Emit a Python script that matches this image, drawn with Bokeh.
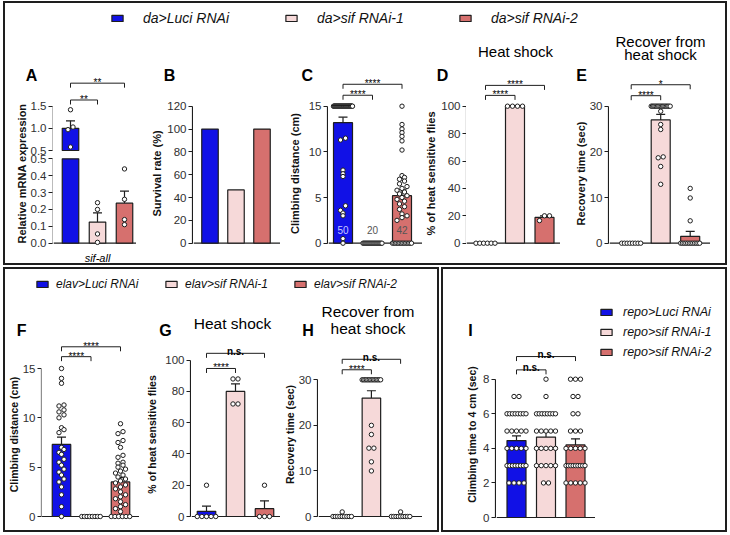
import numpy as np
from math import pi
from bokeh.plotting import figure
from bokeh.models import (Range1d, FixedTicker, Span, Label, Whisker, ColumnDataSource,
                          TeeHead, Legend, LegendItem, PrintfTickFormatter, Title, Spacer)
from bokeh.layouts import row, column
from bokeh.core.properties import value
from bokeh.embed import file_html
from bokeh.resources import INLINE

FONT = "Liberation Sans"
INK = "#1e1e1e"
TICK_C = "#303030"
TICK_FS = 11.5
BLUE, PINK, RED = "#1111e6", "#f6d9d9", "#d6706e"
COLORS = [BLUE, PINK, RED]
DOT = 4.4
BOX = {"border": "2px solid #1e1e1e"}

# ------------------------------------------------------------------ data
top_legend = ["da>Luci RNAi", "da>sif RNAi-1", "da>sif RNAi-2"]
mid_legend = ["elav>Luci RNAi", "elav>sif RNAi-1", "elav>sif RNAi-2"]
repo_legend = ["repo>Luci RNAi", "repo>sif RNAi-1", "repo>sif RNAi-2"]

A_mean = [1.0, 0.125, 0.237]
A_sem = [0.17, 0.055, 0.072]
A_pts = [[1.42, 1.03, 0.97, 0.58], [0.24, 0.20, 0.055, 0.005], [0.44, 0.26, 0.14, 0.11]]
A_ticks_low = [0.0, 0.1, 0.2, 0.3, 0.4, 0.5]
A_ticks_high = [0.5, 1.0, 1.5]
A_sig = [(0, 1, 1.64, "**"), (0, 2, 2.02, "**")]

B_mean = [100, 46.7, 100]
B_ticks = [0, 20, 40, 60, 80, 100, 120]

C_mean = [13.2, 0.0, 5.2]
C_sem = [0.6, 0.0, 0.65]
C_n = [50, 20, 42]
C_pts = [[15] * 39 + [11.5, 11.3, 8.0, 7.6, 7.3, 4.1, 3.6, 3.3, 3.0, 0.5, 0.0],
         [0] * 20,
         [15, 13, 12.5, 12.1, 11.7, 11.2, 10.2, 7.4, 7.2, 7.0, 6.8, 6.5, 6.2, 6.0, 5.8, 5.6,
          5.4, 5.2, 5.0, 4.8, 4.6, 4.3, 4.0, 3.7, 3.2, 3.0, 2.8, 2.5] + [0] * 14]
C_ticks = [0, 5, 10, 15]
C_sig = [(0, 1, 16.2, "****"), (0, 2, 17.4, "****")]

D_mean = [0.0, 100.0, 18.8]
D_sem = [0.0, 0.0, 1.2]
D_pts = [[0] * 6, [100] * 4, [20, 20, 16.5]]
D_ticks = [0, 20, 40, 60, 80, 100]
D_sig = [(0, 1, 107.9, "****"), (0, 2, 115.2, "****")]

E_mean = [0.0, 27.0, 1.5]
E_sem = [0.0, 1.2, 1.1]
E_pts = [[0] * 8,
         [30] * 16 + [28.9, 26.0, 24.9, 18.9, 18.7, 16.8, 12.9],
         [12, 9.9, 4.9] + [0] * 12]
E_ticks = [0, 10, 20, 30]
E_sig = [(0, 1, 32.3, "****"), (0, 2, 34.7, "*")]

F_mean = [7.3, 0.0, 3.5]
F_sem = [0.75, 0.0, 0.45]
F_pts = [[15, 14, 13.5, 11.3, 11.2, 10.8, 10.6, 10.3, 10.0, 9.0, 8.8, 8.5, 7.0, 6.8, 6.5, 6.3,
          5.8, 5.5, 5.2, 4.8, 4.5, 4.2, 3.8, 3.5, 3.0, 2.2, 1.0, 0.0],
         [0] * 8,
         [9.4, 8.6, 8.4, 7.7, 7.5, 7.0, 6.2, 6.0, 5.5, 5.4, 5.2, 5.0, 4.8, 4.6, 4.4, 4.2, 4.0,
          3.8, 3.6, 3.4, 3.2, 3.0, 2.8, 2.5, 2.2, 2.0, 1.8, 1.5, 1.2, 1.0, 0.8, 0.5] + [0] * 6]
F_ticks = [0, 5, 10, 15]
F_sig = [(0, 1, 16.2, "****"), (0, 2, 17.2, "****")]

G_mean = [3.3, 80.0, 5.0]
G_sem = [3.3, 4.8, 5.0]
G_pts = [[20, 0, 0, 0, 0, 0], [88, 88, 72, 72], [20, 0, 0, 0]]
G_ticks = [0, 20, 40, 60, 80, 100]
G_sig = [(0, 1, 94.7, "****"), (0, 2, 104.4, "n.s.")]

H_mean = [0.1, 26.0, 0.1]
H_sem = [0.0, 1.6, 0.0]
H_pts = [[1] + [0] * 9, [30] * 14 + [20, 18, 15, 15, 12, 10], [1] + [0] * 9]
H_ticks = [0, 10, 20, 30]
H_sig = [(0, 1, 32.2, "****"), (0, 2, 34.5, "n.s.")]

I_mean = [4.45, 4.65, 4.2]
I_sem = [0.27, 0.3, 0.35]
I_pts = [[7] * 2 + [6] * 8 + [5] * 5 + [4] * 5 + [3] * 8 + [2] * 4,
         [8] + [7] + [6] * 8 + [5] * 5 + [4] * 5 + [3] * 5 + [2] * 2,
         [8] * 3 + [7] * 2 + [6] * 2 + [5] * 3 + [4] * 5 + [3] * 9 + [2] * 5]
I_ticks = [0, 2, 4, 6, 8]
I_sig = [(0, 1, 8.54, "n.s."), (0, 2, 9.31, "n.s.")]


# ------------------------------------------------------------------ helpers
def swarm(vals, k, s, maxw, d=5.0):
    v = np.asarray(vals, dtype=float)
    off = np.zeros(len(v))
    bins = np.round(v * k / d).astype(int)
    for b in np.unique(bins):
        idx = np.where(bins == b)[0]
        idx = idx[np.argsort(v[idx], kind="stable")]
        n = len(idx)
        if n > 1:
            step = min(d, maxw / (n - 1))
            off[idx] = (np.arange(n) - (n - 1) / 2) * step
    return off / s


def common(p):
    p.outline_line_color = None
    p.background_fill_color = "white"
    p.border_fill_color = "white"
    for gr in p.grid:
        gr.visible = False


def yrange(zero, top_px, top_val, T, bot):
    k = (zero - top_px) / top_val
    return k, Range1d(-(bot - zero) / k, top_val + (top_px - T) / k)


def tick_w(ticks, fs=TICK_FS, fmt=None):
    w = 0
    for t in ticks:
        s = fmt % t if fmt else f"{t:g}"
        w = max(w, sum(0.278 if c == "." else 0.556 for c in s) * fs)
    return w


def axis_fig(x0, axis, H, T_a, yr, ticks, bounds, letter, letter_cx, ylabel, lab_cx,
             lab_fs, letter_w=11.5, fmt=None):
    W = axis + 1 - x0
    p = figure(width=W, height=H, output_backend="svg", toolbar_location=None, title=None,
               x_axis_location=None, y_axis_location="left",
               min_border_left=W - 1, min_border_right=0, min_border_top=T_a,
               min_border_bottom=0, x_range=Range1d(0, 1), y_range=yr)
    common(p)
    ax = p.yaxis[0]
    ax.ticker = FixedTicker(ticks=ticks, minor_ticks=[])
    ax.bounds = bounds
    ax.major_tick_in = 0
    ax.major_tick_out = 4
    ax.minor_tick_line_color = None
    ax.axis_line_color = INK
    ax.axis_line_width = 1.2
    ax.major_tick_line_color = INK
    ax.major_tick_line_width = 1.2
    ax.major_label_text_font = FONT
    ax.major_label_text_font_size = f"{TICK_FS}px"
    ax.major_label_text_color = TICK_C
    ax.major_label_standoff = 2
    ax.axis_label = ylabel
    ax.axis_label_text_font = FONT
    ax.axis_label_text_font_size = f"{lab_fs}px"
    ax.axis_label_text_font_style = "bold"
    ax.axis_label_text_color = "#111111"
    stand = (W - 1) - 6 - tick_w(ticks, TICK_FS, fmt) - lab_fs * 0.55 - (lab_cx - x0)
    ax.axis_label_standoff = int(max(0, round(stand)))
    p.add_layout(Title(text=letter, align="right", vertical_align="bottom", standoff=0,
                       offset=W - (letter_cx - x0 + letter_w / 2), text_font=FONT,
                       text_font_size="16px", text_font_style="bold", text_color="#000000"),
                 "above")
    p.add_layout(Span(location=0, dimension="width", line_color=INK, line_width=1.2))
    return p


def plot_fig(x0, xend, H, yr, c0, s):
    p = figure(width=xend - x0, height=H, output_backend="svg", toolbar_location=None,
               title=None, x_axis_location=None, y_axis_location=None, min_border=0,
               x_range=Range1d((x0 - c0) / s, (xend - c0) / s), y_range=yr)
    common(p)
    p.add_layout(Span(location=0, dimension="width", line_color=INK, line_width=1.2,
                      level="underlay"))
    return p


def lab(p, x0, H, text, cx, cy, size, style="normal"):
    p.add_layout(Label(x=cx - x0, y=H - cy, x_units="screen", y_units="screen",
                       text=text, text_font=FONT, text_font_size=f"{size}px",
                       text_font_style=style, text_color="#000000",
                       text_align="center", text_baseline="middle"))


def add_bars(p, means, bw, s, bottom=0, idx=None, tops=None, rname="default"):
    idx = list(range(len(means))) if idx is None else idx
    tops = [means[i] for i in idx] if tops is None else tops
    src = ColumnDataSource(dict(x=idx, top=tops, color=[COLORS[i] for i in idx]))
    p.vbar(x="x", top="top", bottom=bottom, width=bw / s, fill_color="color",
           line_color=INK, line_width=1.2, source=src, y_range_name=rname)


def add_err(p, xs, lo, hi, rname="default"):
    if not xs:
        return
    src = ColumnDataSource(dict(x=xs, lo=lo, hi=hi))
    p.add_layout(Whisker(base="x", lower="lo", upper="hi", source=src, dimension="height",
                         line_color=INK, line_width=1.2, lower_head=None,
                         upper_head=TeeHead(size=9, line_color=INK, line_width=1.2),
                         y_range_name=rname))


def add_dots(p, groups, k, s, bw, rname="default"):
    xs, ys = [], []
    for i, vals in enumerate(groups):
        if not vals:
            continue
        off = swarm(vals, k, s, bw)
        xs += list(i + off)
        ys += list(vals)
    src = ColumnDataSource(dict(x=xs, y=ys))
    p.scatter(x="x", y="y", source=src, marker="circle", size=DOT, fill_color="white",
              line_color=INK, line_width=1.0, y_range_name=rname)


def add_sig(p, k, sig, rname="default"):
    leg = 4.5 / k
    xs = [[i, i, j, j] for i, j, y, t in sig]
    ys = [[y - leg, y, y, y - leg] for i, j, y, t in sig]
    p.multi_line(xs=xs, ys=ys, line_color=INK, line_width=1.0, y_range_name=rname)
    for i, j, y, t in sig:
        ns = t == "n.s."
        p.text(x=[(i + j) / 2], y=[y + (2.0 if ns else 0.6) / k], text=[t],
               text_align="center", text_baseline="alphabetic", text_font=value(FONT),
               text_font_size="10px", text_font_style="bold" if ns else "normal",
               text_color="#000000", y_range_name=rname)


def wrap(*figs):
    return [column(f) for f in figs]


def panel(x0, axis, xend, H, zero, top_px, ticks, c0, s, bw, letter, letter_cx, letter_cy,
          ylabel, lab_cx, lab_fs, means, sems=None, pts=None, sig=None, letter_w=11.5):
    top_val = ticks[-1]
    T_a = int(round(letter_cy + 9))
    _, yra = yrange(zero, top_px, top_val, T_a, H)
    fa = axis_fig(x0, axis, H, T_a, yra, ticks, (0, top_val), letter, letter_cx, ylabel,
                  lab_cx, lab_fs, letter_w)
    k, yrp = yrange(zero, top_px, top_val, 0, H)
    fp = plot_fig(axis + 1, xend, H, yrp, c0, s)
    add_bars(fp, means, bw, s)
    if sems:
        ex = [i for i in range(len(means)) if sems[i] > 0]
        add_err(fp, ex, [means[i] for i in ex], [means[i] + sems[i] for i in ex])
    if pts:
        add_dots(fp, pts, k, s, bw)
    if sig:
        add_sig(fp, k, sig)
    return fa, fp, k


def legend_fig(W, H, labels, fs, standoff, gw, gh, orientation, location,
               label_width=20, spacing=0, lh=16):
    p = figure(width=W, height=H, output_backend="svg", toolbar_location=None, title=None,
               x_axis_location=None, y_axis_location=None, min_border=0,
               x_range=Range1d(10, 11), y_range=Range1d(0, 1))
    common(p)
    src = ColumnDataSource(dict(x=[0, 1, 2], top=[0, 0, 0], color=COLORS))
    r = p.vbar(x="x", top="top", width=0.5, fill_color="color", line_color=INK,
               line_width=1.2, source=src)
    items = [LegendItem(label=l, renderers=[r], index=i) for i, l in enumerate(labels)]
    p.add_layout(Legend(items=items, location=location, orientation=orientation,
                        padding=0, margin=0, spacing=spacing, glyph_width=gw,
                        glyph_height=gh, label_height=lh, label_width=label_width,
                        label_standoff=standoff, label_text_font=FONT,
                        label_text_font_style="italic", label_text_font_size=f"{fs}px",
                        label_text_color="#111111", border_line_color=None,
                        background_fill_alpha=0))
    return p


# ------------------------------------------------------------------ panel A (broken axis)
def panel_A(x0=0, axis=47, xend=131, H=230):
    zero, brk_lo, brk_hi, top_px = 209.7, 125.3, 117.0, 72.7
    c0, s, bw = 65.0, 27.0, 16.5
    lo_top, hi_bot, hi_top = A_ticks_low[-1], A_ticks_high[0], A_ticks_high[-1]
    k1 = (zero - brk_lo) / lo_top
    k2 = (brk_hi - top_px) / (hi_top - hi_bot)
    letter_cy = 40.5
    T_a = int(round(letter_cy + 9))

    def ranges(T):
        r1 = Range1d(-(H - zero) / k1, lo_top + (brk_lo - T) / k1)
        r2 = Range1d(hi_bot - (H - brk_hi) / k2, hi_bot + (brk_hi - T) / k2)
        return r1, r2

    def u(w):
        py = brk_hi - (w - hi_bot) * k2
        return (zero - py) / k1

    hi_ticks = [u(w) for w in A_ticks_high]
    r1a, r2a = ranges(T_a)
    fa = axis_fig(x0, axis, H, T_a, r1a, A_ticks_low + hi_ticks, (0, hi_ticks[-1]), "A",
                  26, "Relative mRNA expression", 19, 11, fmt="%.1f")
    fa.extra_y_ranges = {"hi": r2a}
    ax = fa.yaxis[0]
    ax.formatter = PrintfTickFormatter(format="%.1f")
    ax.major_label_overrides = {t: f"{w:.1f}" for t, w in zip(hi_ticks, A_ticks_high)}
    ax.axis_line_color = None
    fa.segment(x0=[0.5], y0=[A_ticks_low[0]], x1=[0.5], y1=[lo_top], line_color=INK,
               line_width=1.2)
    fa.segment(x0=[0.5], y0=[hi_bot], x1=[0.5], y1=[hi_top], line_color=INK,
               line_width=1.2, y_range_name="hi")

    r1p, r2p = ranges(0)
    fp = plot_fig(axis + 1, xend, H, r1p, c0, s)
    fp.extra_y_ranges = {"hi": r2p}
    n = len(A_mean)
    add_bars(fp, A_mean, bw, s, tops=[min(m, lo_top) for m in A_mean])
    hx = [i for i in range(n) if A_mean[i] > hi_bot]
    add_bars(fp, A_mean, bw, s, bottom=hi_bot, idx=hx, rname="hi")
    lx = [i for i in range(n) if A_mean[i] + A_sem[i] <= lo_top]
    add_err(fp, lx, [A_mean[i] for i in lx], [A_mean[i] + A_sem[i] for i in lx])
    add_err(fp, hx, [A_mean[i] for i in hx], [A_mean[i] + A_sem[i] for i in hx], rname="hi")
    add_dots(fp, [[v for v in g if v <= lo_top] for g in A_pts], k1, s, bw)
    add_dots(fp, [[v for v in g if v > lo_top] for g in A_pts], k2, s, bw, rname="hi")
    add_sig(fp, k2, A_sig, rname="hi")
    lab(fp, axis + 1, H, "sif-all", 92, 224, 11, "italic")
    return fa, fp


# ------------------------------------------------------------------ top box
HT, ZT, TPT, LCT = 230, 209.7, 72.7, 40.5
aA, pA = panel_A()
aB, pB, _ = panel(131, 187, 275, HT, ZT, TPT, B_ticks, 204.5, 26.0, 16.5, "B", 164, LCT,
                  "Survival rate (%)", 155, 11, B_mean)
aC, pC, kC = panel(275, 322, 417, HT, ZT, TPT, C_ticks, 337.5, 29.5, 19, "C", 301.7, LCT,
                   "Climbing distance (cm)", 291.7, 11, C_mean, C_sem, C_pts, C_sig)
pC.text(x=list(range(3)), y=[13 / kC] * 3, text=[str(v) for v in C_n],
        text_align="center", text_baseline="middle", text_font=value(FONT),
        text_font_size="10px", text_color=["#c9c9ff", "#555555", "#555555"])
aD, pD, _ = panel(417, 460, 555, HT, ZT, TPT, D_ticks, 480, 29.5, 19, "D", 437, LCT,
                  "% of heat sensitive flies", 428, 11, D_mean, D_sem, D_pts, D_sig)
lab(pD, 461, HT, "Heat shock", 510, 18, 15)
aE, pE, _ = panel(555, 603, 705, HT, ZT, TPT, E_ticks, 625.7, 29.5, 19, "E", 576, LCT,
                  "Recovery time (sec)", 580, 11, E_mean, E_sem, E_pts, E_sig, letter_w=10.7)
lab(pE, 604, HT, "Recover from", 655, 8, 15)
lab(pE, 604, HT, "heat shock", 655, 21, 15)

top_leg = row(Spacer(width=105, height=30),
              legend_fig(615, 30, top_legend, 14, 19, 14, 8, "horizontal", "center_left",
                         label_width=121, spacing=20))
top_box = column(top_leg,
                 row(*wrap(aA, pA, aB, pB, aC, pC, aD, pD, aE, pE),
                     Spacer(width=15, height=HT)),
                 styles=BOX)

# ------------------------------------------------------------------ bottom-left box
HB, ZB, LCB = 231, 217, 30
aF, pF, _ = panel(0, 35, 134, HB, ZB, 69, F_ticks, 56, 29.5, 18.5, "F", 15, LCB,
                  "Climbing distance (cm)", 10, 10.5, F_mean, F_sem, F_pts, F_sig,
                  letter_w=9.8)
aG, pG, _ = panel(134, 185, 275, HB, ZB, 60.7, G_ticks, 201, 29.0, 18.5, "G", 160, LCB,
                  "% of heat sensitive flies", 150, 10.5, G_mean, G_sem, G_pts, G_sig,
                  letter_w=12.4)
lab(pG, 186, HB, "Heat shock", 227, 24, 15.5)
aH, pH, _ = panel(275, 312, 417, HB, ZB, 80.3, H_ticks, 336.7, 29.2, 18.5, "H", 302.5, LCB,
                  "Recovery time (sec)", 288, 10.5, H_mean, H_sem, H_pts, H_sig)
lab(pH, 313, HB, "Recover from", 362.5, 12, 15.5)
lab(pH, 313, HB, "heat shock", 362.5, 29, 15.5)

mid_leg = row(Spacer(width=30, height=30),
              legend_fig(402, 30, mid_legend, 12, 7, 14, 8, "horizontal", "center_left",
                         label_width=95, spacing=13))
bl_box = column(mid_leg, row(*wrap(aF, pF, aG, pG, aH, pH), Spacer(width=15, height=HB)),
                styles=BOX)

# ------------------------------------------------------------------ bottom-right box
HI = 261
aI, pI, _ = panel(0, 52, 152, HI, 248, 109.7, I_ticks, 73, 29.5, 19, "I", 27, 59.7,
                  "Climbing time to 4 cm (sec)", 32, 10.5, I_mean, I_sem, I_pts, I_sig,
                  letter_w=4.4)
I_leg = row(Spacer(width=4, height=HI),
            column(Spacer(width=126, height=35),
                   legend_fig(126, 226, repo_legend, 12.5, 10, 14, 8, "vertical", "top_left",
                              label_width=20, spacing=4)))
br_box = row(*wrap(aI, pI), I_leg, styles=BOX)

root = column(Spacer(width=724, height=1),
              row(Spacer(width=3, height=10),
                  column(top_box, Spacer(width=724, height=2),
                         row(bl_box, Spacer(width=2, height=10), br_box))))

with open("out.html", "w") as fh:
    fh.write(file_html(root, INLINE))
